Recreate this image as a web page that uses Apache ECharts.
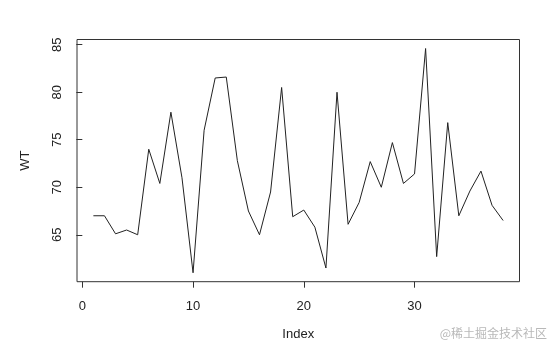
<!DOCTYPE html>
<html>
<head>
<meta charset="utf-8">
<script src="https://cdn.jsdelivr.net/npm/echarts@6/dist/echarts.min.js"></script>
<style>html,body{margin:0;padding:0;background:#fff;}#c{width:549px;height:348px;}</style>
</head>
<body>
<div id="c"></div>
<script>
var indexValues = [1,2,3,4,5,6,7,8,9,10,11,12,13,14,15,16,17,18,19,20,21,22,23,24,25,26,27,28,29,30,31,32,33,34,35,36,37,38];
var wtValues = [67.0,67.0,65.1,65.5,65.0,74.0,70.4,77.9,71.0,61.0,76.0,81.5,81.6,72.8,67.5,65.0,69.5,80.5,66.9,67.6,65.8,61.5,80.0,66.1,68.4,72.7,70.0,74.7,70.4,71.4,84.6,62.7,76.8,67.0,69.6,71.7,68.1,66.5];
var xTicks = [0,10,20,30];
var yTicks = [65,70,75,80,85];

var font = 'Liberation Sans, Arial, sans-serif';
var chart = echarts.init(document.getElementById('c'), null, {renderer:'canvas'});
var pts = indexValues.map(function(v,i){return [v, wtValues[i]];});
chart.setOption({
  animation:false,
  backgroundColor:'#fff',
  grid:{left:77, top:39.5, right:29.5, bottom:66.3, show:true, borderColor:'#333', borderWidth:1, backgroundColor:'transparent'},
  xAxis:{
    type:'value', min:-0.48, max:39.48,
    name:'Index', nameLocation:'middle', nameGap:46,
    nameTextStyle:{color:'#222', fontSize:13, fontFamily:font},
    axisLine:{show:false},
    splitLine:{show:false},
    axisTick:{show:true, length:6, customValues:xTicks, lineStyle:{color:'#333'}},
    axisLabel:{customValues:xTicks, margin:18, color:'#222', fontSize:13, fontFamily:font}
  },
  yAxis:{
    type:'value', min:60.06, max:85.55,
    name:'WT', nameLocation:'middle', nameGap:45, nameRotate:90,
    nameTextStyle:{color:'#222', fontSize:13, fontFamily:font},
    axisLine:{show:false},
    splitLine:{show:false},
    axisTick:{show:true, length:6, customValues:yTicks, lineStyle:{color:'#333'}},
    axisLabel:{customValues:yTicks, rotate:90, margin:13, color:'#222', fontSize:13, fontFamily:font}
  },
  graphic:[{type:'text', right:2, top:327, style:{text:'@稀土掘金技术社区', fill:'#b8b8b8', font:'12px "Noto Sans CJK SC"'}}],
  series:[{type:'line', data:pts, showSymbol:false, lineStyle:{color:'#222', width:1}, silent:true}]
});
</script>
</body>
</html>
